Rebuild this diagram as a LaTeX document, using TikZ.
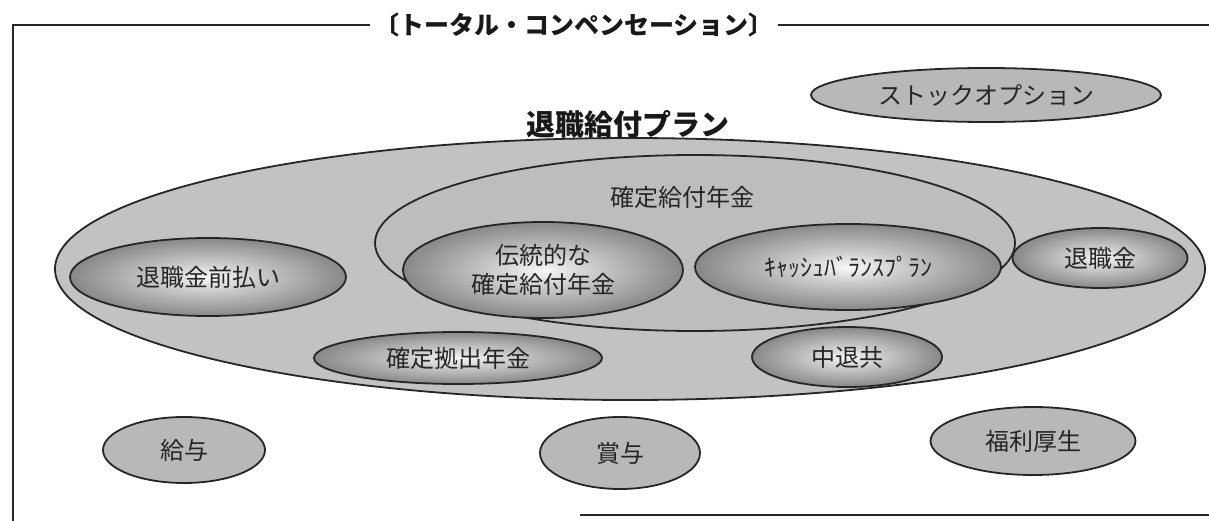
\documentclass[tikz,border=0pt]{standalone}
\usepackage{fontspec}
\setmainfont{Noto Sans CJK JP}
\usetikzlibrary{shapes.geometric}
\pgfdeclareradialshading{ellshade}{\pgfpoint{0bp}{0bp}}{color(0bp)=(black!3); color(10bp)=(black!22); color(30bp)=(black!55); color(50bp)=(black!75); color(75bp)=(black!75)}
\begin{document}
\begin{tikzpicture}[x=1pt,y=-1pt,
  outline/.style={draw=black!85, line width=1.8pt},
  lbl/.style={font=\fontsize{24}{29}\selectfont, text=black!85},
  flat/.style={ellipse, outline, fill=black!28, inner sep=0pt, lbl},
  shadedell/.style={ellipse, outline, shading=ellshade, inner sep=0pt, lbl},
  frameline/.style={line width=2pt, draw=black!85}]
\useasboundingbox (0,0) rectangle (1209,521);

% frame and title
\node[font=\bfseries\fontsize{25}{30}\selectfont, inner sep=4pt, text=black!90] (tc) at (574,25) {〔トータル・コンペンセーション〕};
\draw[frameline] (13,521) |- (tc.west);
\draw[frameline] (tc.east) -- (1209,25);
\coordinate (bl) at (580,515);
\coordinate (br) at (1209,515);
\draw[frameline, line width=2.6pt] (bl) -- (br);

% stock option
\node[flat, minimum width=350, minimum height=54] (so) at (986,95) {ストックオプション};

% retirement plan title
\node[font=\bfseries\fontsize{29}{34}\selectfont, inner sep=1pt, text=black!90] (pt) at (628,124) {退職給付プラン};
\draw[line width=2pt, black!85] ([yshift=-2pt]pt.south west) -- ([yshift=-2pt]pt.south east);

% big ellipse
\node[ellipse, outline, fill=black!24, minimum width=1150, minimum height=262, inner sep=0pt] (plan) at (630,269) {};

% defined benefit ellipse
\node[ellipse, outline, fill=black!26, minimum width=640, minimum height=176, inner sep=0pt] (db) at (695,243) {};
\node[lbl] (dbl) at (682,197) {確定給付年金};

% inner shaded ellipses
\node[shadedell, minimum width=280, minimum height=96, align=center] (trad) at (543,270) {伝統的な\\確定給付年金};
\node[shadedell, minimum width=306, minimum height=86] (cb) at (848,267) {ｷｬｯｼｭﾊﾞﾗﾝｽﾌﾟﾗﾝ};
\node[shadedell, minimum width=276, minimum height=78] (pre) at (208,277) {退職金前払い};
\node[shadedell, minimum width=175, minimum height=60] (rk) at (1100,258) {退職金};
\node[shadedell, minimum width=288, minimum height=52] (dc) at (458,358) {確定拠出年金};
\node[shadedell, minimum width=190, minimum height=60] (cht) at (847,357) {中退共};

% outer flat ellipses
\node[flat, minimum width=162, minimum height=66] (kyuyo) at (184,450) {給与};
\node[flat, minimum width=160, minimum height=72] (shoyo) at (620,453) {賞与};
\node[flat, minimum width=205, minimum height=68] (fukuri) at (1033,441) {福利厚生};
\end{tikzpicture}
\end{document}
